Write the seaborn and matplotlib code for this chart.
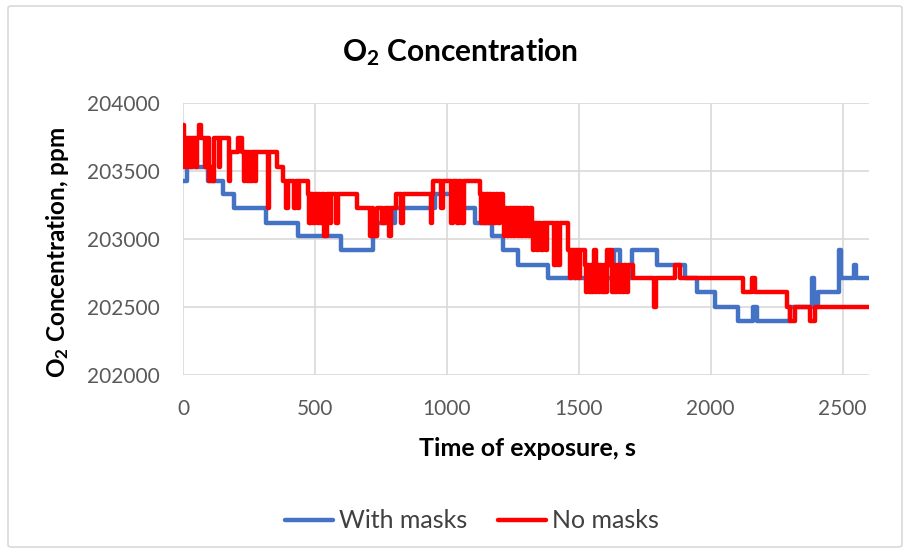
import matplotlib
matplotlib.use("Agg")
import matplotlib.pyplot as plt
import seaborn as sns
import pandas as pd
from matplotlib.patches import FancyBboxPatch

# ---------------- data ----------------
blue_t = [0, 15, 95, 152, 193, 314, 436, 598, 719, 735, 803, 955, 1030, 1106,
          1170, 1212, 1270, 1383, 1632, 1655, 1700, 1795, 1902, 1947, 2015,
          2102, 2160, 2175, 2300, 2383, 2392, 2405, 2487, 2495, 2542, 2552, 2600]
blue_v = [203430, 203530, 203430, 203330, 203230, 203120, 203020, 202920, 203020,
          203120, 203230, 203330, 203230, 203120, 203020, 202920, 202810, 202710,
          202920, 202710, 202920, 202810, 202710, 202610, 202500, 202400, 202500,
          202400, 202500, 202710, 202500, 202610, 202920, 202710, 202810, 202710,
          202710]

red_t = [0, 4, 8, 15, 19, 31, 35, 50, 54, 62, 68, 85, 89, 98, 104, 110, 116, 136,
         140, 176, 180, 208, 222, 232, 236, 242, 246, 250, 256, 262, 266, 272, 278,
         321, 327, 355, 380, 392, 398, 422, 428,
         436, 440, 473, 476, 480, 482, 486, 494, 500, 510, 514, 520, 525, 536, 544,
         556, 562, 580, 588, 658, 708, 716, 720, 735, 755, 765, 782, 788, 808, 826,
         832,
         940, 945, 947, 978, 984, 1016, 1022, 1040, 1046, 1052, 1058, 1064, 1125,
         1130, 1135, 1142, 1148, 1155, 1160, 1168, 1174, 1180, 1186, 1192, 1200,
         1212, 1218, 1222, 1228, 1234, 1242, 1248, 1255, 1260, 1268, 1274, 1282,
         1288, 1296, 1300, 1308, 1314,
         1322, 1326, 1332, 1340, 1345, 1358, 1363, 1376, 1381, 1408, 1414, 1420,
         1428, 1460, 1466, 1472, 1484, 1490, 1500, 1506, 1523, 1528, 1533, 1540,
         1546, 1552, 1558, 1564, 1570, 1576, 1582, 1588, 1594, 1600, 1606, 1616,
         1620, 1626, 1632, 1638, 1646, 1652, 1658, 1664, 1672, 1680, 1686, 1705,
         1786, 1792, 1864, 1884, 2121, 2155, 2167, 2288, 2300, 2318, 2375, 2394,
         2600]
red_v = [203840, 203530, 203740, 203530, 203740, 203530, 203740, 203530, 203740,
         203840, 203740, 203530, 203740, 203430, 203530, 203430, 203740, 203530,
         203740, 203430, 203640, 203740, 203640, 203430, 203640, 203430, 203640,
         203430, 203640, 203430, 203640, 203430, 203640, 203230, 203640, 203530,
         203430, 203230, 203430, 203230, 203430,
         203230, 203430, 203330, 203120, 203330, 203120, 203330, 203120, 203330,
         203120, 203330, 203120, 203330, 203020, 203330, 203120, 203330, 203120,
         203330, 203230, 203020, 203230, 203020, 203230, 203120, 203230, 203020,
         203230, 203330, 203120, 203330,
         203120, 203330, 203430, 203230, 203430, 203120, 203430, 203120, 203430,
         203330, 203120, 203430, 203330, 203120, 203330, 203120, 203330, 203120,
         203330, 203120, 203330, 203120, 203330, 203120, 203330,
         203230, 203020, 203230, 203020, 203230, 203020, 203230, 203020, 203230,
         203020, 203230, 203020, 203230, 203020, 203230, 203020, 203230,
         203120, 202920, 203120, 202920, 203120, 202920, 203120, 202920, 203120,
         202810, 203120, 202810, 203120, 202920, 202710, 202920, 202710, 202920,
         202710, 202920, 202810, 202610, 202810, 202610, 202810, 202610, 202920,
         202610, 202810, 202610, 202810, 202610, 202810, 202610, 202920, 202810,
         202920, 202610, 202810, 202610, 202810, 202610, 202810, 202610, 202810,
         202610, 202810, 202710, 202500, 202710, 202810, 202710, 202610, 202710,
         202610, 202500, 202400, 202500, 202400, 202500, 202500]

series_names = ["With masks", "No masks"]
series_colors = ["#4472C4", "#FF0000"]
x_ticks = [0, 500, 1000, 1500, 2000, 2500]
y_ticks = [202000, 202500, 203000, 203500, 204000]

# ---------------- style ----------------
sns.set_style("white")
plt.rcParams["font.family"] = ["Lato", "DejaVu Sans"]
plt.rcParams["mathtext.fontset"] = "custom"
plt.rcParams["mathtext.rm"] = "Lato"
plt.rcParams["mathtext.it"] = "Lato:italic"
plt.rcParams["mathtext.bf"] = "Lato:bold"

W, H = 910, 553
fig = plt.figure(figsize=(W / 100, H / 100), dpi=100)
ax = fig.add_axes([183 / W, 1 - 375 / H, (869 - 183) / W, (375 - 103) / H])

df_b = pd.DataFrame({"t": blue_t, "v": blue_v})
df_r = pd.DataFrame({"t": red_t, "v": red_v})
sns.lineplot(data=df_b, x="t", y="v", ax=ax, color=series_colors[0], lw=3.2,
             drawstyle="steps-post", estimator=None, sort=False,
             label=series_names[0])
sns.lineplot(data=df_r, x="t", y="v", ax=ax, color=series_colors[1], lw=3.2,
             drawstyle="steps-post", estimator=None, sort=False,
             label=series_names[1])

ax.set_xlim(0, 2600)
ax.set_ylim(202000, 204000)
ax.set_xticks(x_ticks)
ax.set_yticks(y_ticks)
ax.grid(True, color="#D9D9D9", lw=1.2)
ax.set_axisbelow(True)
for s in ax.spines.values():
    s.set_visible(False)
ax.tick_params(axis="both", length=0, labelsize=15, labelcolor="#595959")
ax.tick_params(axis="x", pad=17)
ax.tick_params(axis="y", pad=17)
ax.set_xlabel("")
ax.set_ylabel("")

# titles
fig.text(460 / W, 1 - 52 / H, r"$\mathbf{O_2}$ Concentration", ha="center",
         va="center", fontsize=21.5, fontweight="bold", color="black")
fig.text(527 / W, 1 - 449 / H, "Time of exposure, s", ha="center", va="center",
         fontsize=18, fontweight="bold", color="black")
fig.text(58 / W, 1 - 252 / H, r"$\mathbf{O_2}$ Concentration, ppm", ha="center",
         va="center", rotation=90, fontsize=17.5, fontweight="bold", color="black")

# legend
handles, labels = ax.get_legend_handles_labels()
if ax.get_legend():
    ax.get_legend().remove()
leg = fig.legend(handles, labels, loc="center", bbox_to_anchor=(472 / W, 1 - 521 / H),
                 ncol=2, frameon=False, fontsize=18, handlelength=1.9,
                 handletextpad=0.25, columnspacing=1.25)
for t in leg.get_texts():
    t.set_color("#404040")

# chart border
fig.patches.append(FancyBboxPatch((8 / W, 6 / H), (W - 16) / W, (H - 12) / H,
                                  boxstyle="round,pad=0,rounding_size=0.004",
                                  transform=fig.transFigure, fill=False,
                                  edgecolor="#D9D9D9", lw=1.2))

fig.savefig("out.png", dpi=100)
